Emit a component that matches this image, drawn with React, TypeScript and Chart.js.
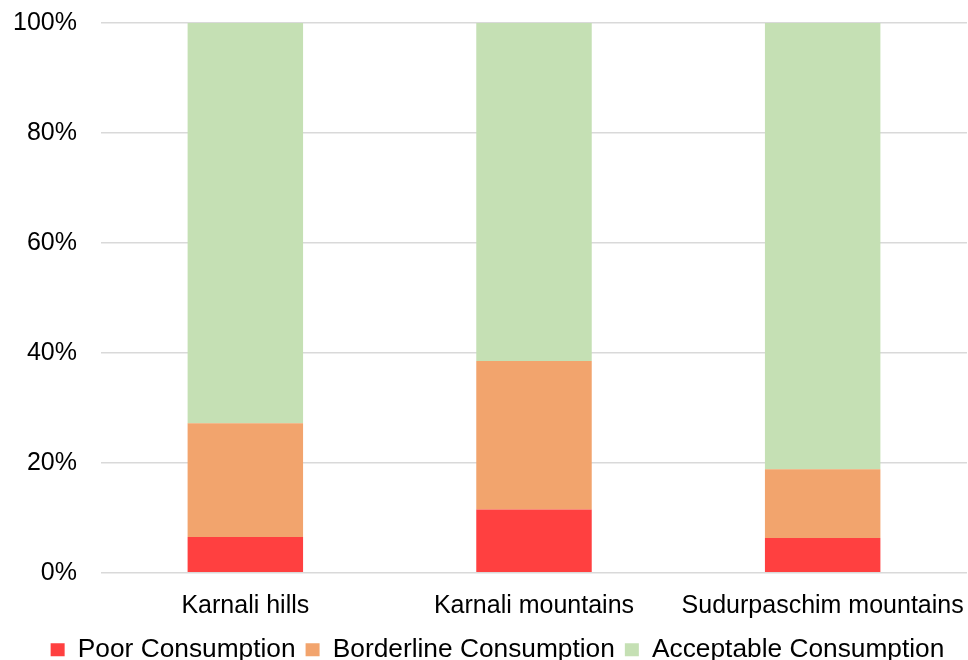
import React, { useEffect, useRef } from "react";
import { Chart, registerables } from "chart.js";

Chart.register(...registerables);

const categories = ["Karnali hills", "Karnali mountains", "Sudurpaschim mountains"];
const poor = [6.5, 11.5, 6.3];
const borderline = [20.7, 27.0, 12.5];
const acceptable = [72.8, 61.5, 81.2];
const yTicks = [0, 20, 40, 60, 80, 100];

const legendShift = {
  id: "legendShift",
  afterLayout(chart: any) {
    const lg = chart.legend;
    if (lg) {
      lg.left += 16;
    }
  },
};

export default function App() {
  const ref = useRef<HTMLCanvasElement>(null);
  useEffect(() => {
    document.body.style.margin = "0";
    const family = "'Liberation Sans', Arial, sans-serif";
    const font = { family, size: 25 };
    const chart = new Chart(ref.current!, {
      type: "bar",
      data: {
        labels: categories,
        datasets: [
          { label: "Poor Consumption", data: poor, backgroundColor: "#FF4040" },
          { label: "Borderline Consumption", data: borderline, backgroundColor: "#F2A46D" },
          { label: "Acceptable Consumption", data: acceptable, backgroundColor: "#C5E0B4" },
        ],
      },
      plugins: [legendShift],
      options: {
        responsive: false,
        animation: false,
        layout: { padding: { left: 12, right: 1, top: 23, bottom: -13 } },
        datasets: { bar: { categoryPercentage: 1, barPercentage: 0.4 } },
        scales: {
          x: {
            stacked: true,
            grid: { display: false, drawTicks: false },
            border: { display: false },
            ticks: { color: "#000", font, padding: 18.5, maxRotation: 0, autoSkip: false },
            afterFit: (axis: any) => {
              axis.paddingLeft = 0;
              axis.paddingRight = 0;
              axis.height = 54;
            },
          },
          y: {
            stacked: true,
            min: 0,
            max: 100,
            afterBuildTicks: (axis: any) => {
              axis.ticks = yTicks.map((v) => ({ value: v }));
            },
            grid: { color: "#d9d9d9", lineWidth: 1.5, drawTicks: false },
            border: { display: false },
            ticks: { color: "#000", font, padding: 24, callback: (v: any) => v + "%" },
            afterFit: (axis: any) => {
              axis.width = 89;
              axis.paddingTop = 0;
              axis.paddingBottom = 0;
            },
          },
        },
        plugins: {
          legend: {
            position: "bottom",
            labels: { color: "#000", font: { family, size: 26.3 }, boxWidth: 14, boxHeight: 13, padding: 10 },
          },
          tooltip: { enabled: false },
        },
      },
    });
    return () => chart.destroy();
  }, []);
  return <canvas ref={ref} width={968} height={660} style={{ display: "block" }} />;
}
